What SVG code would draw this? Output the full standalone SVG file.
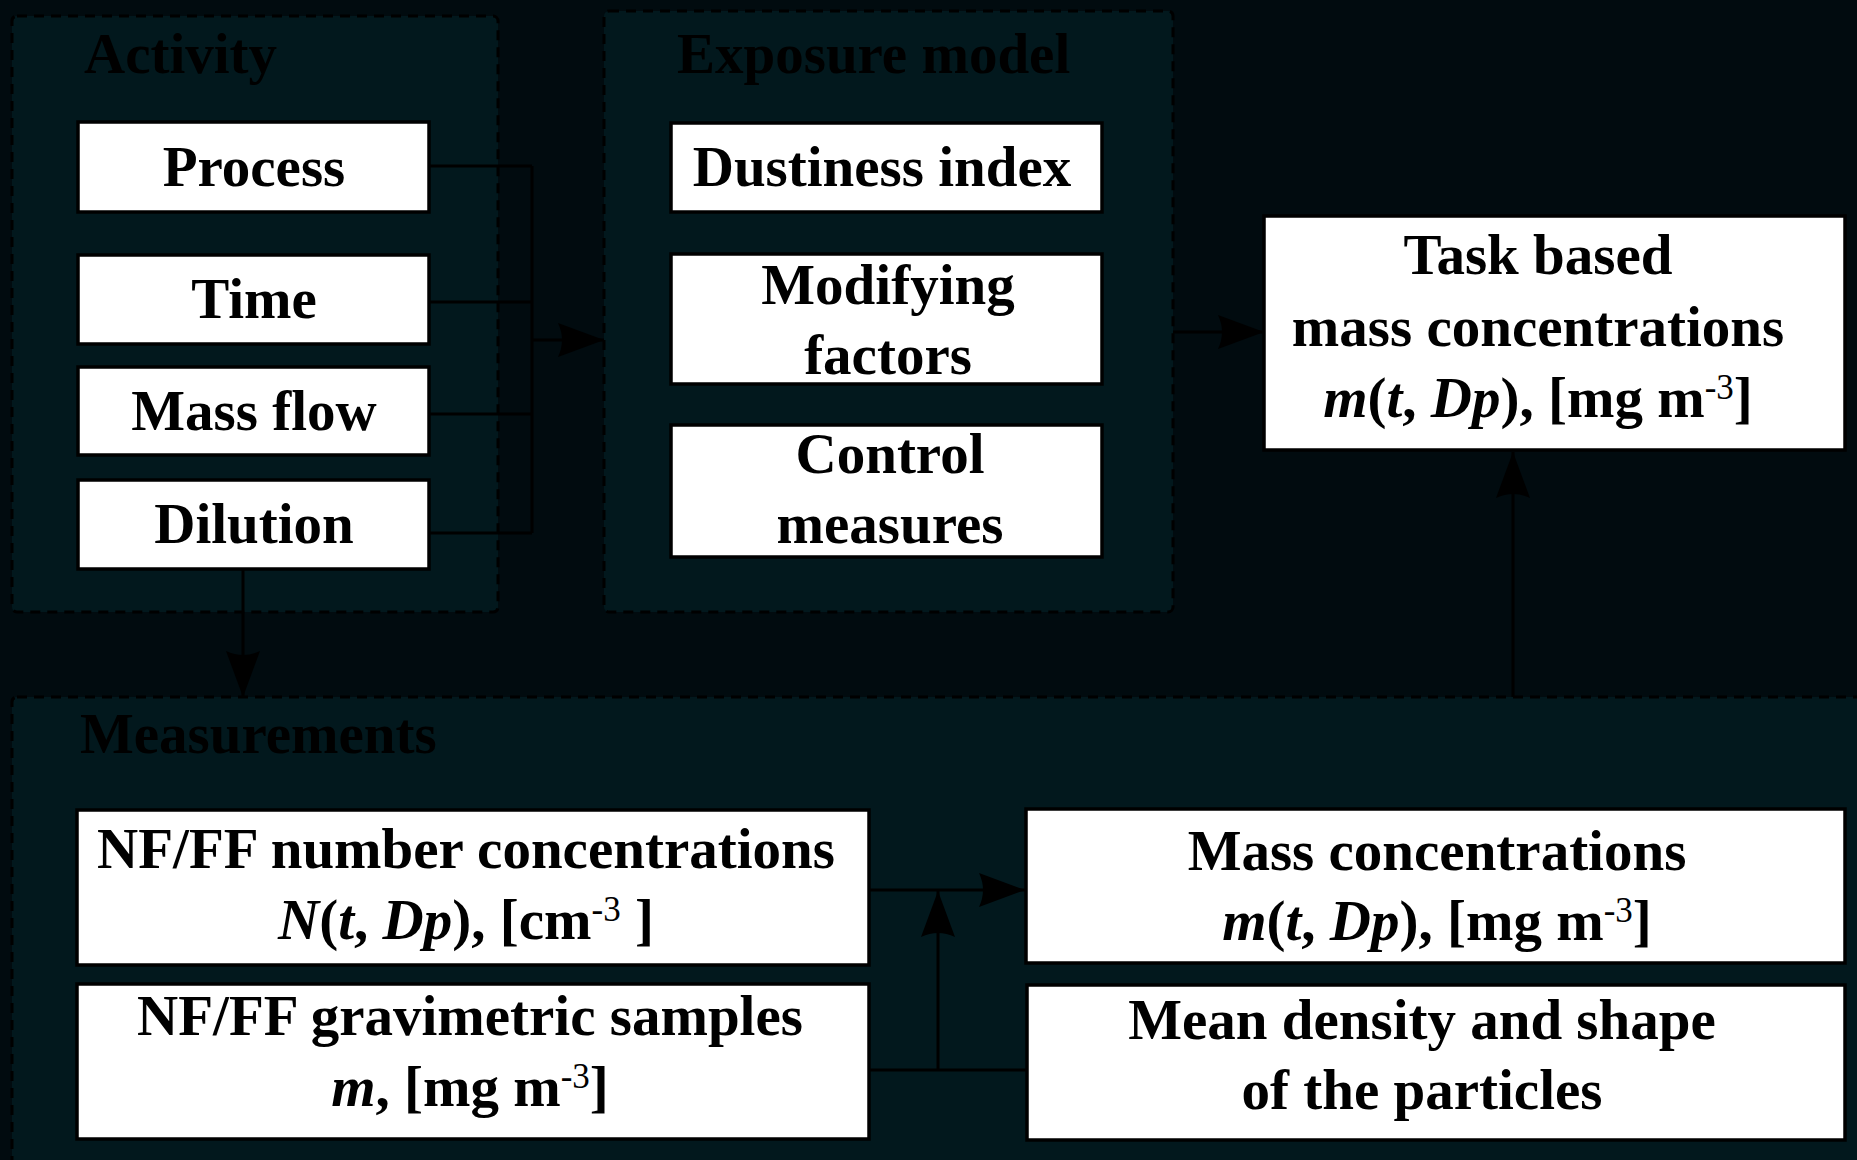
<svg xmlns="http://www.w3.org/2000/svg" width="1857" height="1160" viewBox="0 0 1857 1160">
<style>
.bg{fill:#010b0f}
.grp{fill:#02181d;stroke:#000;stroke-width:3;stroke-dasharray:10 7}
.node{fill:#fff;stroke:#000;stroke-width:3.5}
.t{font-family:"Liberation Serif","Times New Roman",serif;font-weight:bold;font-size:57px;fill:#000}
.c{text-anchor:middle}
.i{font-style:italic}
.sup{font-size:35px;font-weight:normal}
.ln{fill:none;stroke:#000;stroke-width:3}
</style>
<defs>
<marker id="ah" markerUnits="userSpaceOnUse" markerWidth="50" markerHeight="40" viewBox="-48 -20 50 40" refX="0" refY="0" orient="auto">
<path d="M0,0 L-46,-17 Q-38,0 -46,17 Z" fill="#000"/>
</marker>
</defs>
<rect class="bg" x="0" y="0" width="1857" height="1160"/>

<g id="group-activity">
<rect class="grp" x="12" y="16" width="486" height="596" rx="5"/>
<text class="t" x="84" y="73">Activity</text>
</g>
<g id="group-exposure">
<rect class="grp" x="604" y="11" width="569" height="601" rx="5"/>
<text class="t" x="677" y="73">Exposure model</text>
</g>
<g id="group-measurements">
<rect class="grp" x="12" y="697" width="1860" height="480" rx="5"/>
<text class="t" x="80" y="753">Measurements</text>
</g>

<g id="connectors">
<path class="ln" d="M429,166 H532 M429,302 H532 M429,414 H532 M429,533 H532 M532,166 V533"/>
<path class="ln" d="M532,340 H604" marker-end="url(#ah)"/>
<path class="ln" d="M1173,332 H1264" marker-end="url(#ah)"/>
<path class="ln" d="M243,569 V697" marker-end="url(#ah)"/>
<path class="ln" d="M1513,697 V452" marker-end="url(#ah)"/>
<path class="ln" d="M869,890 H1025" marker-end="url(#ah)"/>
<path class="ln" d="M869,1070 H1027"/>
<path class="ln" d="M938,1070 V891" marker-end="url(#ah)"/>
</g>

<g id="node-process">
<rect class="node" x="78" y="122" width="351" height="90"/>
<text class="t c" x="254" y="186">Process</text>
</g>
<g id="node-time">
<rect class="node" x="78" y="255" width="351" height="89"/>
<text class="t c" x="254" y="318">Time</text>
</g>
<g id="node-massflow">
<rect class="node" x="78" y="367" width="351" height="88"/>
<text class="t c" x="254" y="430">Mass flow</text>
</g>
<g id="node-dilution">
<rect class="node" x="78" y="480" width="351" height="89"/>
<text class="t c" x="254" y="543">Dilution</text>
</g>

<g id="node-dustiness">
<rect class="node" x="671" y="123" width="431" height="89"/>
<text class="t c" x="882" y="186">Dustiness index</text>
</g>
<g id="node-modifying">
<rect class="node" x="671" y="254" width="431" height="130"/>
<text class="t c" x="888" y="304">Modifying</text>
<text class="t c" x="888" y="374">factors</text>
</g>
<g id="node-control">
<rect class="node" x="671" y="425" width="431" height="132"/>
<text class="t c" x="890" y="473">Control</text>
<text class="t c" x="890" y="543">measures</text>
</g>

<g id="node-task">
<rect class="node" x="1264" y="216" width="581" height="234"/>
<text class="t c" x="1538" y="274">Task based</text>
<text class="t c" x="1538" y="346">mass concentrations</text>
<text class="t c" x="1538" y="417"><tspan class="i">m</tspan>(<tspan class="i">t</tspan>, <tspan class="i">Dp</tspan>), [mg m<tspan class="sup" dy="-18">-3</tspan><tspan dy="18">]</tspan></text>
</g>

<g id="node-number">
<rect class="node" x="77" y="810" width="792" height="155"/>
<text class="t c" x="466" y="868">NF/FF number concentrations</text>
<text class="t c" x="466" y="939"><tspan class="i">N</tspan>(<tspan class="i">t</tspan>, <tspan class="i">Dp</tspan>), [cm<tspan class="sup" dy="-18">-3</tspan><tspan dy="18"> ]</tspan></text>
</g>
<g id="node-gravimetric">
<rect class="node" x="77" y="984" width="792" height="155"/>
<text class="t c" x="470" y="1035">NF/FF gravimetric samples</text>
<text class="t c" x="470" y="1106"><tspan class="i">m</tspan>, [mg m<tspan class="sup" dy="-18">-3</tspan><tspan dy="18">]</tspan></text>
</g>
<g id="node-massconc">
<rect class="node" x="1026" y="809" width="819" height="154"/>
<text class="t c" x="1437" y="870">Mass concentrations</text>
<text class="t c" x="1437" y="940"><tspan class="i">m</tspan>(<tspan class="i">t</tspan>, <tspan class="i">Dp</tspan>), [mg m<tspan class="sup" dy="-18">-3</tspan><tspan dy="18">]</tspan></text>
</g>
<g id="node-density">
<rect class="node" x="1027" y="985" width="818" height="155"/>
<text class="t c" x="1422" y="1039">Mean density and shape</text>
<text class="t c" x="1422" y="1109">of the particles</text>
</g>
</svg>
